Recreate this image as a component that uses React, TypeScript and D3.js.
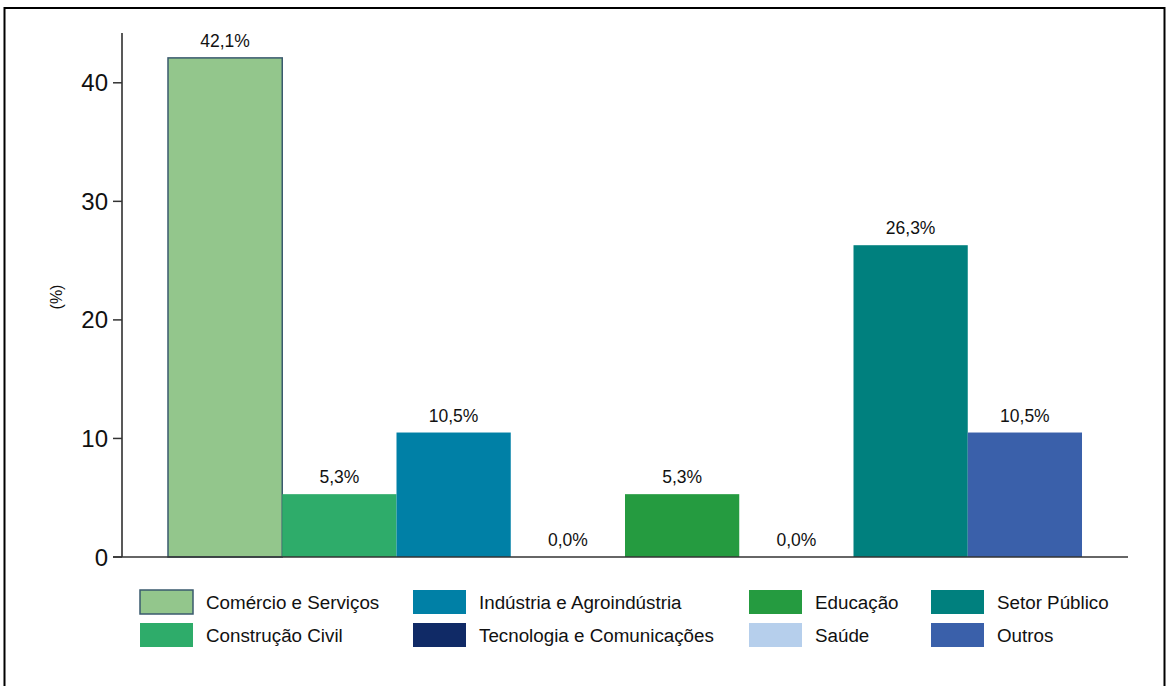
import React from "react";
import * as d3 from "d3";

const categories = [
  "Comércio e Serviços",
  "Construção Civil",
  "Indústria e Agroindústria",
  "Tecnologia e Comunicações",
  "Educação",
  "Saúde",
  "Setor Público",
  "Outros",
];
const values = [42.1, 5.3, 10.5, 0.0, 5.3, 0.0, 26.3, 10.5];
const colors = ["#93c68c", "#2eac6a", "#0080a6", "#102a66", "#259b40", "#b6cfec", "#00807e", "#3a60aa"];
const yTicks = [0, 10, 20, 30, 40];
const legendOrder = [0, 2, 4, 6, 1, 3, 5, 7];

export default function App() {
  const W = 1167, H = 686;
  const x = d3.scaleBand<string>().domain(categories).range([122, 1128]).paddingInner(0).paddingOuter(0.4026);
  const y = d3.scaleLinear().domain([0, 44.2]).range([557, 33]);
  const fmt = (v: number) => v.toFixed(1).replace(".", ",") + "%";
  const legendCols = [140, 413, 749, 931];
  const legendRows = [590, 623];
  const font = "'Liberation Sans', Arial, sans-serif";
  return (
    <svg width={W} height={H} style={{ position: "absolute", left: 0, top: 0 }} fontFamily={font}>
      <rect x={0} y={0} width={W} height={H} fill="#fff" />
      <rect x={4.5} y={8} width={1160} height={700} fill="none" stroke="#000" strokeWidth={2} />
      {categories.map((c, i) => (
        <rect key={c} x={x(c)!} y={y(values[i])} width={x.bandwidth()} height={y(0) - y(values[i])}
          fill={colors[i]} stroke={i === 0 ? "#3a5a6e" : "none"} strokeWidth={1.5} />
      ))}
      {categories.map((c, i) => (
        <text key={c + "l"} x={x(c)! + x.bandwidth() / 2} y={y(values[i]) - 11} textAnchor="middle" fontSize={17.5} fill="#111">
          {fmt(values[i])}
        </text>
      ))}
      <line x1={122} x2={122} y1={33} y2={557} stroke="#222" strokeWidth={1.5} />
      <line x1={113} x2={1128} y1={557} y2={557} stroke="#333" strokeWidth={1.5} />
      {yTicks.map((t) => (
        <g key={t}>
          <line x1={113} x2={122} y1={y(t)} y2={y(t)} stroke="#333" strokeWidth={1.5} />
          <text x={108} y={y(t) + 8.5} textAnchor="end" fontSize={24} fill="#111">{t}</text>
        </g>
      ))}
      <text transform={`translate(62,297) rotate(-90)`} textAnchor="middle" fontSize={16} fill="#111">(%)</text>
      {legendOrder.map((ci, k) => {
        const col = k % 4, row = Math.floor(k / 4);
        const lx = legendCols[col], ly = legendRows[row];
        return (
          <g key={"lg" + ci}>
            <rect x={lx} y={ly} width={53} height={24} fill={colors[ci]}
              stroke={ci === 0 ? "#3a5a6e" : "none"} strokeWidth={1.5} />
            <text x={lx + 66} y={ly + 19} fontSize={18.8} fill="#111">{categories[ci]}</text>
          </g>
        );
      })}
    </svg>
  );
}
